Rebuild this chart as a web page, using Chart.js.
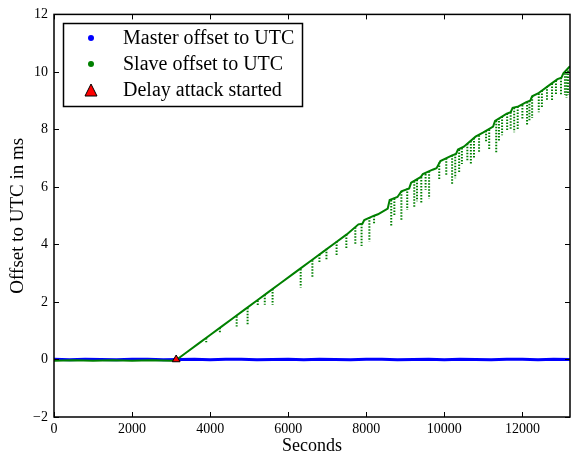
<!DOCTYPE html>
<html>
<head>
<meta charset="utf-8">
<script src="https://cdn.jsdelivr.net/npm/chart.js@4/dist/chart.umd.min.js"></script>
<style>
  body { margin: 0; background: #fff; }
  #wrap { width: 571px; height: 455px; }
</style>
</head>
<body>
<div id="wrap"><canvas id="c" width="571" height="455"></canvas></div>
<script>
// master clock, sampled every 400 s
const masterSec = [0, 400, 800, 1200, 1600, 2000, 2400, 2800, 3200, 3600, 4000, 4400, 4800, 5200, 5600, 6000, 6400,
  6800, 7200, 7600, 8000, 8400, 8800, 9200, 9600, 10000, 10400, 10800, 11200, 11600, 12000, 12400, 12800, 13220];
const masterOffset = [0.01, -0.01, 0.01, 0.00, -0.01, 0.01, 0.01, -0.01, 0.00, 0.01, -0.01, 0.01, 0.01, -0.01, 0.00, 0.01, -0.01,
  0.01, 0.00, -0.01, 0.01, 0.01, -0.01, 0.00, 0.01, -0.01, 0.01, 0.00, -0.01, 0.01, 0.01, -0.01, 0.01, 0.00];

// slave clock main trace
const slaveSec = [0, 500, 1000, 1500, 2000, 2500, 3000, 3130, 3400, 3700, 4000, 4300, 4600, 4900, 5200, 5500, 5800,
  6100, 6300, 6600, 6900, 7200, 7500, 7800, 7900, 7950, 8200, 8300, 8550, 8600, 8800, 8900, 9100, 9150, 9400,
  9450, 9700, 9800, 9900, 10200, 10300, 10350, 10500, 10800, 11000, 11250, 11300, 11600, 11700, 11750, 11900,
  12100, 12200, 12250, 12400, 12700, 12900, 13000, 13050, 13220];
const slaveOffset = [-0.04, -0.03, -0.04, -0.03, -0.04, -0.03, -0.04, -0.02, 0.25, 0.55, 0.85, 1.15, 1.45, 1.75, 2.05, 2.35, 2.65,
  2.95, 3.15, 3.45, 3.75, 4.05, 4.35, 4.70, 4.72, 4.85, 5.00, 5.05, 5.25, 5.55, 5.65, 5.85, 5.95, 6.15, 6.35,
  6.45, 6.60, 6.65, 6.90, 7.10, 7.15, 7.30, 7.40, 7.75, 7.90, 8.10, 8.30, 8.55, 8.60, 8.75, 8.80,
  8.95, 9.00, 9.15, 9.25, 9.55, 9.75, 9.80, 9.95, 10.20];

// downward spikes of the slave trace (top of spike, lowest sample)
const dipSec = [3900, 4250, 4680, 4960, 5220, 5400, 5600, 6320, 6620, 6800, 6980, 7240, 7490, 7720, 7880, 8080, 8200,
  8640, 8720, 8900, 9050, 9230, 9300, 9410, 9520, 9610, 9870,
  10050, 10200, 10280, 10380, 10450, 10590, 10680, 10760, 10890,
  11070, 11150, 11330, 11400, 11480, 11610, 11700, 11790, 11880,
  12000, 12120, 12180, 12250, 12420, 12500, 12630, 12760, 12860, 12990, 13090, 13130, 13170];
const dipTop = [0.75, 1.10, 1.50, 1.80, 2.05, 2.25, 2.45, 3.15, 3.45, 3.65, 3.85, 4.10, 4.35, 4.60, 4.72, 4.95, 5.00,
  5.55, 5.60, 5.85, 5.95, 6.20, 6.25, 6.35, 6.45, 6.55, 6.85,
  7.00, 7.10, 7.15, 7.30, 7.35, 7.50, 7.60, 7.70, 7.80,
  7.95, 8.00, 8.30, 8.40, 8.45, 8.55, 8.60, 8.75, 8.80,
  8.85, 8.95, 9.00, 9.15, 9.25, 9.35, 9.50, 9.60, 9.70, 9.80, 9.95, 9.95, 10.05];
const dipLow = [0.60, 0.90, 1.15, 1.20, 1.85, 1.90, 1.90, 2.50, 2.85, 3.35, 3.45, 3.60, 3.85, 4.00, 3.95, 4.10, 4.70,
  4.65, 5.00, 4.85, 5.20, 5.30, 5.50, 5.45, 5.90, 5.60, 6.25,
  6.40, 6.10, 6.30, 6.50, 6.80, 6.90, 6.80, 7.00, 7.20,
  7.55, 7.30, 7.20, 7.60, 7.80, 7.95, 8.00, 7.90, 8.00,
  8.35, 8.15, 8.30, 8.40, 8.60, 8.75, 9.00, 9.00, 9.20, 9.20, 9.20, 9.10, 9.20];

const attackSec = [3130];
const attackOffset = [0];

const xTicks = [0, 2000, 4000, 6000, 8000, 10000, 12000];
const yTicks = [-2, 0, 2, 4, 6, 8, 10, 12];

const serif = '"Liberation Serif", "DejaVu Serif", serif';

const masterPts = masterSec.map((s, i) => ({ x: s, y: masterOffset[i] }));
const slavePts = slaveSec.map((s, i) => ({ x: s, y: slaveOffset[i] }));
const dipPts = [];
dipSec.forEach((s, i) => {
  dipPts.push({ x: s, y: dipTop[i] }, { x: s, y: dipLow[i] }, { x: s, y: null });
});

const frame = {
  id: 'frame',
  afterDraw(chart) {
    const c = chart.ctx;
    const { left, right, top, bottom } = chart.chartArea;
    const xs = chart.scales.x, ys = chart.scales.y;
    c.save();
    c.strokeStyle = '#000';
    c.lineWidth = 1;
    c.beginPath();
    xTicks.forEach(v => {
      const px = Math.round(xs.getPixelForValue(v)) + 0.5;
      c.moveTo(px, bottom); c.lineTo(px, bottom - 5);
      c.moveTo(px, top); c.lineTo(px, top + 5);
    });
    yTicks.forEach(v => {
      const py = Math.round(ys.getPixelForValue(v)) + 0.5;
      c.moveTo(left, py); c.lineTo(left + 5, py);
      c.moveTo(right, py); c.lineTo(right - 5, py);
    });
    c.stroke();
    c.lineWidth = 1.5;
    c.strokeRect(left, top, right - left, bottom - top);

    // legend
    const lx = 63.5, ly = 23.5, lw = 239, lh = 83;
    c.fillStyle = '#fff';
    c.fillRect(lx, ly, lw, lh);
    c.lineWidth = 1.5;
    c.strokeRect(lx, ly, lw, lh);
    const items = [
      { label: chart.data.datasets[3].label, color: '#0000ff', shape: 'dot' },
      { label: chart.data.datasets[1].label, color: '#008000', shape: 'dot' },
      { label: chart.data.datasets[0].label, color: '#ff0000', shape: 'tri' }
    ];
    c.font = '20px ' + serif;
    c.textBaseline = 'middle';
    items.forEach((it, i) => {
      const cy = 38 + i * 26;
      c.fillStyle = it.color;
      c.beginPath();
      if (it.shape === 'dot') {
        c.arc(91, cy, 3, 0, Math.PI * 2);
        c.fill();
      } else {
        c.moveTo(91, cy - 6); c.lineTo(97, cy + 6); c.lineTo(85, cy + 6); c.closePath();
        c.fill();
        c.lineWidth = 1;
        c.strokeStyle = '#000';
        c.stroke();
      }
      c.fillStyle = '#000';
      c.fillText(it.label, 123, cy + 1);
    });
    c.restore();
  }
};

new Chart(document.getElementById('c'), {
  type: 'line',
  data: {
    datasets: [
      {
        label: 'Delay attack started',
        type: 'scatter',
        data: attackSec.map((s, i) => ({ x: s, y: attackOffset[i] })),
        pointStyle: 'triangle',
        pointRadius: 4.5,
        backgroundColor: '#ff0000',
        borderColor: '#000',
        borderWidth: 1,
        order: 0
      },
      {
        label: 'Slave offset to UTC',
        data: slavePts,
        borderColor: '#008000',
        borderWidth: 2,
        pointRadius: 0,
        tension: 0,
        order: 1
      },
      {
        label: 'Slave spikes',
        data: dipPts,
        borderColor: '#008000',
        borderWidth: 2,
        borderDash: [1.5, 1.5],
        pointRadius: 0,
        spanGaps: false,
        order: 2
      },
      {
        label: 'Master offset to UTC',
        data: masterPts,
        borderColor: '#0000ff',
        borderWidth: 3,
        pointRadius: 0,
        tension: 0,
        order: 3
      }
    ]
  },
  options: {
    responsive: false,
    animation: false,
    layout: { autoPadding: false, padding: { top: 14, right: 1, left: 0, bottom: 0 } },
    plugins: { legend: { display: false }, tooltip: { enabled: false } },
    scales: {
      x: {
        type: 'linear',
        min: 0,
        max: 13220,
        afterBuildTicks: s => { s.ticks = xTicks.map(v => ({ value: v })); },
        afterFit: s => { s.height = 38; s.paddingRight = 0; s.paddingLeft = 0; },
        grid: { display: false, drawTicks: false },
        border: { display: false },
        ticks: { color: '#000', font: { family: serif, size: 14 }, padding: 4, maxRotation: 0, callback: v => String(v) },
        title: { display: true, text: 'Seconds', color: '#000', font: { family: serif, size: 18 }, padding: { top: 0, bottom: -2 } }
      },
      y: {
        min: -2,
        max: 12,
        afterBuildTicks: s => { s.ticks = yTicks.map(v => ({ value: v })); },
        afterFit: s => { s.width = 54; },
        grid: { display: false, drawTicks: false },
        border: { display: false },
        ticks: {
          color: '#000', font: { family: serif, size: 14 }, padding: 6,
          callback: v => String(v).replace('-', '\u2212')
        },
        title: { display: true, text: 'Offset to UTC in ms', color: '#000', font: { family: serif, size: 19 }, padding: { top: 7, bottom: 0 } }
      }
    }
  },
  plugins: [frame]
});
</script>
</body>
</html>
